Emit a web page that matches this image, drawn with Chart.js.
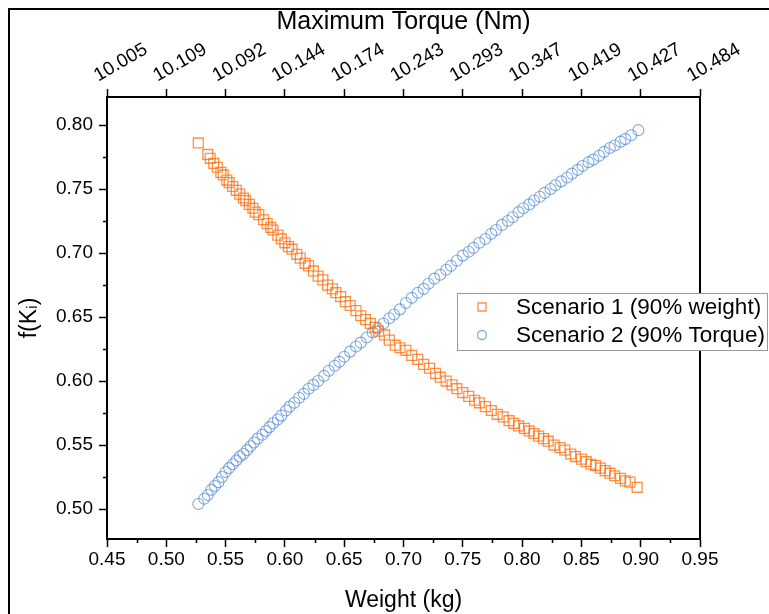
<!DOCTYPE html>
<html>
<head>
<meta charset="utf-8">
<script src="https://cdn.jsdelivr.net/npm/chart.js@4/dist/chart.umd.min.js"></script>
<style>
  html, body { margin: 0; padding: 0; background: #fff; }
  #wrap { position: relative; width: 769px; height: 614px; }
  canvas { display: block; }
</style>
</head>
<body>
<div id="wrap"><canvas id="c" width="769" height="614"></canvas></div>
<script>
// ---- Data ----
const weightTicks = [0.45, 0.50, 0.55, 0.60, 0.65, 0.70, 0.75, 0.80, 0.85, 0.90, 0.95];
const torqueLabels = ['10.005', '10.109', '10.092', '10.144', '10.174', '10.243', '10.293', '10.347', '10.419', '10.427', '10.484'];
const fTicks = [0.50, 0.55, 0.60, 0.65, 0.70, 0.75, 0.80];

const s1Label = 'Scenario 1 (90% weight)';
const s1Weight = [0.527,0.535,0.537,0.540,0.543,0.546,0.548,0.551,0.553,0.556,0.559,0.562,0.565,0.567,0.570,0.573,0.575,0.578,0.582,0.585,0.588,0.590,0.594,0.597,0.600,0.603,0.606,0.610,0.613,0.617,0.620,0.624,0.628,0.632,0.636,0.640,0.643,0.647,0.651,0.655,0.660,0.664,0.668,0.672,0.676,0.679,0.684,0.688,0.693,0.697,0.702,0.707,0.712,0.717,0.722,0.727,0.731,0.736,0.741,0.745,0.750,0.755,0.760,0.764,0.769,0.774,0.779,0.784,0.789,0.793,0.797,0.802,0.806,0.810,0.814,0.818,0.822,0.827,0.832,0.836,0.841,0.845,0.850,0.854,0.858,0.862,0.866,0.870,0.874,0.878,0.883,0.887,0.891,0.897];
const s1F = [0.786,0.777,0.774,0.770,0.767,0.763,0.761,0.757,0.755,0.752,0.749,0.746,0.743,0.741,0.738,0.735,0.732,0.730,0.726,0.723,0.720,0.718,0.714,0.711,0.708,0.705,0.703,0.699,0.696,0.692,0.690,0.686,0.682,0.679,0.675,0.672,0.669,0.666,0.662,0.659,0.655,0.651,0.648,0.645,0.642,0.639,0.636,0.632,0.628,0.626,0.624,0.620,0.617,0.613,0.610,0.606,0.603,0.600,0.597,0.594,0.591,0.588,0.585,0.583,0.580,0.577,0.574,0.572,0.569,0.567,0.565,0.563,0.561,0.559,0.557,0.555,0.553,0.550,0.548,0.546,0.543,0.541,0.539,0.537,0.535,0.534,0.532,0.530,0.528,0.526,0.524,0.522,0.521,0.517];

const s2Label = 'Scenario 2 (90% Torque)';
const s2Weight = [0.527,0.532,0.535,0.538,0.541,0.544,0.547,0.550,0.553,0.556,0.559,0.562,0.565,0.568,0.571,0.574,0.577,0.581,0.584,0.587,0.590,0.594,0.597,0.601,0.604,0.608,0.612,0.616,0.620,0.624,0.628,0.633,0.637,0.642,0.646,0.650,0.655,0.660,0.664,0.669,0.674,0.678,0.683,0.688,0.692,0.697,0.702,0.707,0.712,0.717,0.721,0.726,0.731,0.736,0.740,0.745,0.750,0.755,0.759,0.764,0.769,0.774,0.778,0.783,0.788,0.792,0.797,0.801,0.806,0.810,0.815,0.819,0.824,0.828,0.833,0.838,0.842,0.847,0.851,0.856,0.860,0.865,0.869,0.874,0.878,0.883,0.887,0.892,0.898];
const s2F = [0.504,0.508,0.511,0.515,0.518,0.521,0.525,0.529,0.532,0.535,0.538,0.541,0.543,0.546,0.549,0.552,0.555,0.558,0.561,0.564,0.567,0.570,0.573,0.577,0.580,0.583,0.587,0.590,0.594,0.597,0.600,0.604,0.608,0.612,0.615,0.619,0.623,0.627,0.630,0.634,0.638,0.641,0.645,0.649,0.652,0.656,0.661,0.665,0.669,0.672,0.676,0.680,0.683,0.687,0.690,0.694,0.698,0.701,0.704,0.708,0.711,0.715,0.718,0.722,0.725,0.728,0.732,0.735,0.738,0.741,0.744,0.747,0.750,0.753,0.756,0.759,0.762,0.765,0.768,0.771,0.773,0.776,0.779,0.782,0.784,0.787,0.789,0.792,0.796];

// ---- Styling ----
const FONT = '"Liberation Sans", Arial, Helvetica, sans-serif';
const ORANGE = 'rgba(255,102,0,0.72)';
const BLUE = 'rgba(80,138,214,0.72)';
const xMinorTicks = [0.475,0.525,0.575,0.625,0.675,0.725,0.775,0.825,0.875,0.925];
const yMinorTicks = [0.525,0.575,0.625,0.675,0.725,0.775];

const toPts = (xs, ys) => xs.map((x, i) => ({ x: x, y: ys[i] }));

const framePlugin = {
  id: 'frame',
  beforeDraw(chart) {
    const ctx = chart.ctx;
    ctx.save();
    ctx.fillStyle = '#fff';
    ctx.fillRect(0, 0, chart.width, chart.height);
    ctx.strokeStyle = '#000';
    ctx.lineWidth = 2;
    ctx.beginPath();
    ctx.moveTo(9, chart.height);
    ctx.lineTo(9, 9);
    ctx.lineTo(chart.width, 9);
    ctx.stroke();
    ctx.restore();
  },
  afterDraw(chart) {
    const ctx = chart.ctx;
    const a = chart.chartArea;
    const xs = chart.scales.x, ys = chart.scales.y;
    ctx.save();
    // right border
    ctx.strokeStyle = '#000';
    ctx.lineWidth = 2;
    ctx.beginPath();
    ctx.moveTo(a.right, a.top);
    ctx.lineTo(a.right, a.bottom);
    ctx.stroke();
    // minor ticks
    ctx.lineWidth = 1.5;
    ctx.beginPath();
    xMinorTicks.forEach(v => {
      const px = Math.round(xs.getPixelForValue(v)) + 0.5;
      ctx.moveTo(px, a.bottom);
      ctx.lineTo(px, a.bottom + 4);
    });
    yMinorTicks.forEach(v => {
      const py = Math.round(ys.getPixelForValue(v)) + 0.5;
      ctx.moveTo(a.left, py);
      ctx.lineTo(a.left - 4, py);
    });
    ctx.stroke();
    // legend
    const bx = 457.5, by = 293.5, bw = 310, bh = 57;
    ctx.fillStyle = '#fff';
    ctx.fillRect(bx, by, bw, bh);
    ctx.strokeStyle = '#9a9a9a';
    ctx.lineWidth = 1;
    ctx.strokeRect(bx, by, bw, bh);
    const rows = [
      { label: chart.data.datasets[0].label, color: ORANGE, shape: 'rect', y: 307 },
      { label: chart.data.datasets[1].label, color: BLUE, shape: 'circle', y: 335 }
    ];
    rows.forEach(r => {
      ctx.strokeStyle = r.color;
      ctx.lineWidth = 1.3;
      ctx.beginPath();
      if (r.shape === 'rect') ctx.rect(478, r.y - 4, 8, 8);
      else ctx.arc(482, r.y, 4.5, 0, Math.PI * 2);
      ctx.stroke();
      ctx.fillStyle = '#000';
      ctx.font = '22.5px ' + FONT;
      ctx.textBaseline = 'middle';
      ctx.textAlign = 'left';
      ctx.fillText(r.label, 516, r.y + 1);
    });
    ctx.restore();
  }
};

const tickFont = { family: FONT, size: 19 };
const titleFont = { family: FONT, size: 23 };

new Chart(document.getElementById('c'), {
  type: 'scatter',
  data: {
    datasets: [
      {
        label: s1Label,
        data: toPts(s1Weight, s1F),
        pointStyle: 'rect',
        pointRadius: 7,
        borderColor: ORANGE,
        backgroundColor: 'rgba(255,255,255,0)',
        borderWidth: 1.3,
        xAxisID: 'x', yAxisID: 'y'
      },
      {
        label: s2Label,
        data: toPts(s2Weight, s2F),
        pointStyle: 'circle',
        pointRadius: 5.5,
        borderColor: BLUE,
        backgroundColor: 'rgba(255,255,255,0)',
        borderWidth: 1.1,
        xAxisID: 'x', yAxisID: 'y'
      }
    ]
  },
  options: {
    responsive: false,
    animation: false,
    events: [],
    layout: { padding: { left: 8, right: 69, top: 0, bottom: 0 } },
    plugins: { legend: { display: false }, tooltip: { enabled: false } },
    scales: {
      x: {
        type: 'linear', position: 'bottom', min: 0.45, max: 0.95,
        afterBuildTicks: s => { s.ticks = weightTicks.map(v => ({ value: v })); },
        afterFit: s => { s.height = 75; },
        ticks: { font: tickFont, color: '#000', padding: 1, maxRotation: 0, autoSkip: false,
                 callback: v => v.toFixed(2) },
        grid: { drawOnChartArea: false, tickLength: 8, tickColor: '#000', tickWidth: 1.5 },
        border: { display: true, color: '#000', width: 2 },
        title: { display: true, text: 'Weight (kg)', font: titleFont, color: '#000', padding: { top: 0, bottom: 0 } }
      },
      x2: {
        type: 'linear', position: 'top', min: 0.45, max: 0.95,
        afterBuildTicks: s => { s.ticks = weightTicks.map(v => ({ value: v })); },
        afterFit: s => { s.height = 97; },
        ticks: { font: tickFont, color: '#000', padding: 2, minRotation: 30, maxRotation: 30, autoSkip: false,
                 callback: (v, i) => torqueLabels[i] },
        grid: { drawOnChartArea: false, tickLength: 8, tickColor: '#000', tickWidth: 1.5 },
        border: { display: true, color: '#000', width: 2 },
        title: { display: true, text: 'Maximum Torque (Nm)', font: { family: FONT, size: 25 }, color: '#000', padding: { top: 7, bottom: 0 } }
      },
      y: {
        type: 'linear', position: 'left', min: 0.4766, max: 0.8219,
        afterBuildTicks: s => { s.ticks = fTicks.map(v => ({ value: v })); },
        afterFit: s => { s.width = 99; },
        ticks: { font: tickFont, color: '#000', padding: 6, callback: v => v.toFixed(2) },
        grid: { drawOnChartArea: false, tickLength: 8, tickColor: '#000', tickWidth: 1.5 },
        border: { display: true, color: '#000', width: 2 },
        title: { display: true, text: 'f(K\u1D62)', font: titleFont, color: '#000', padding: { top: 8, bottom: 0 } }
      }
    }
  },
  plugins: [framePlugin]
});
</script>
</body>
</html>
